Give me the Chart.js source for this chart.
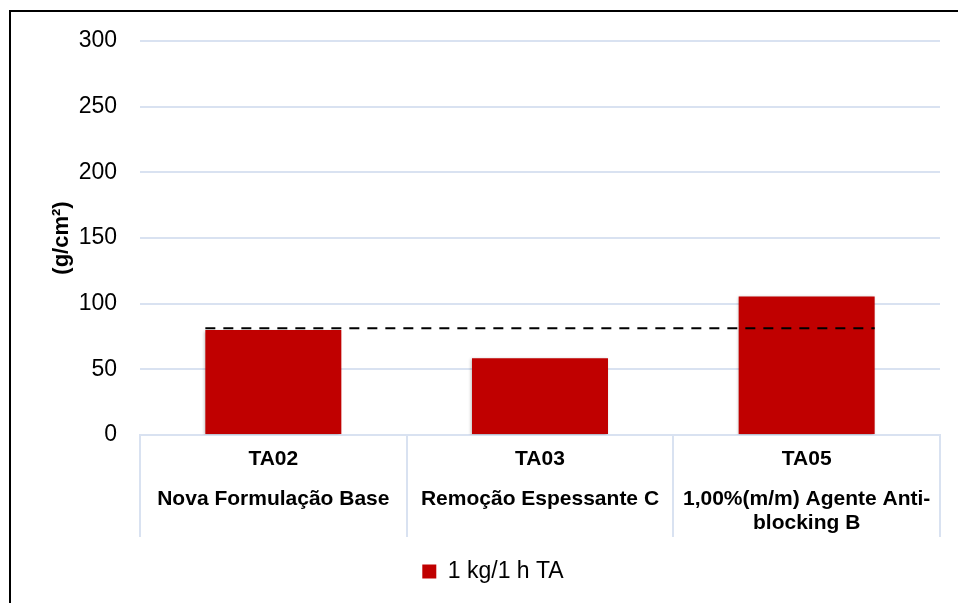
<!DOCTYPE html>
<html>
<head>
<meta charset="utf-8">
<script src="https://cdn.jsdelivr.net/npm/chart.js@4.4.1/dist/chart.umd.min.js"></script>
<style>
  html, body { margin: 0; padding: 0; background: #fff; overflow: hidden; width: 958px; height: 603px; }
  #frame { position: absolute; left: 9px; top: 10px; width: 2000px; height: 2000px; border-top: 2px solid #000; border-left: 2px solid #000; }
  #wrap { position: absolute; left: 11px; top: 0; width: 964px; height: 603px; }
</style>
</head>
<body>
<div id="frame"></div>
<div id="wrap"><canvas id="myChart" width="964" height="603"></canvas></div>
<script>
// data
const codes = ["TA02", "TA03", "TA05"];
const descriptions = [
  ["Nova Formulação Base"],
  ["Remoção Espessante C"],
  ["1,00%(m/m) Agente Anti-", "blocking B"],
];
const values = [80, 58.5, 105.5];
const referenceValue = 81.3;
const seriesName = "1 kg/1 h TA";
const yTicks = { min: 0, max: 300, step: 50 };

const gridColor = "#d9e2f1";
const font = "'Liberation Sans', Arial, sans-serif";

const ctx = document.getElementById("myChart");

// two-row category labels under the axis
const categoryLabels = {
  id: "categoryLabels",
  afterDraw(chart) {
    const x = chart.scales.x;
    const c = chart.ctx;
    c.save();
    c.fillStyle = "#000";
    c.textAlign = "center";
    c.textBaseline = "middle";
    c.font = "bold 21px " + font;
    codes.forEach((code, i) => {
      const px = x.getPixelForValue(i);
      c.fillText(code, px, x.top + 24);
      descriptions[i].forEach((line, j) => {
        c.fillText(line, px, x.top + 64 + j * 24);
      });
    });
    c.restore();
  },
};

// faint shadow under the bars, like the original
const barShadow = {
  id: "barShadow",
  beforeDatasetsDraw(chart) {
    const c = chart.ctx;
    c.save();
    c.shadowColor = "rgba(0,0,0,0.25)";
    c.shadowBlur = 3;
    c.shadowOffsetX = -1;
    c.shadowOffsetY = 1;
  },
  afterDatasetsDraw(chart) {
    chart.ctx.restore();
  },
};

// dashed reference line across the bars
const refLine = {
  id: "refLine",
  afterDatasetsDraw(chart) {
    const bars = chart.getDatasetMeta(0).data;
    const first = bars[0];
    const last = bars[bars.length - 1];
    const y = chart.scales.y.getPixelForValue(referenceValue);
    const c = chart.ctx;
    c.save();
    c.strokeStyle = "#000";
    c.lineWidth = 2;
    c.setLineDash([10, 8]);
    c.beginPath();
    c.moveTo(first.x - first.width / 2, y);
    c.lineTo(last.x + last.width / 2, y);
    c.stroke();
    c.restore();
  },
};

new Chart(ctx, {
  type: "bar",
  data: {
    labels: codes,
    datasets: [
      {
        label: seriesName,
        data: values,
        backgroundColor: "#c00000",
        borderWidth: 0,
        categoryPercentage: 1,
        barPercentage: 0.51,
      },
    ],
  },
  options: {
    responsive: false,
    animation: false,
    devicePixelRatio: 1,
    layout: { padding: { top: 41, left: 35, right: 35, bottom: 10 } },
    plugins: {
      tooltip: { enabled: false },
      legend: {
        position: "bottom",
        labels: {
          boxWidth: 14,
          boxHeight: 14,
          color: "#000",
          font: { family: font, size: 23 },
        },
      },
    },
    scales: {
      x: {
        grid: {
          offset: true,
          drawOnChartArea: false,
          tickLength: 102,
          color: gridColor,
          lineWidth: 2,
        },
        border: { color: gridColor, width: 2 },
        ticks: { display: false },
        afterFit: (scale) => {
          scale.height = 115;
        },
      },
      y: {
        min: yTicks.min,
        max: yTicks.max,
        ticks: {
          stepSize: yTicks.step,
          padding: 23,
          color: "#000",
          font: { family: font, size: 23 },
        },
        grid: { color: gridColor, lineWidth: 2, drawTicks: false },
        border: { display: false },
        title: {
          display: true,
          text: "(g/cm²)",
          color: "#000",
          padding: { top: 3, bottom: 0 },
          font: { family: font, size: 22, weight: "bold" },
        },
        afterFit: (scale) => {
          scale.width = 94;
        },
      },
    },
  },
  plugins: [categoryLabels, barShadow, refLine],
});
</script>
</body>
</html>
